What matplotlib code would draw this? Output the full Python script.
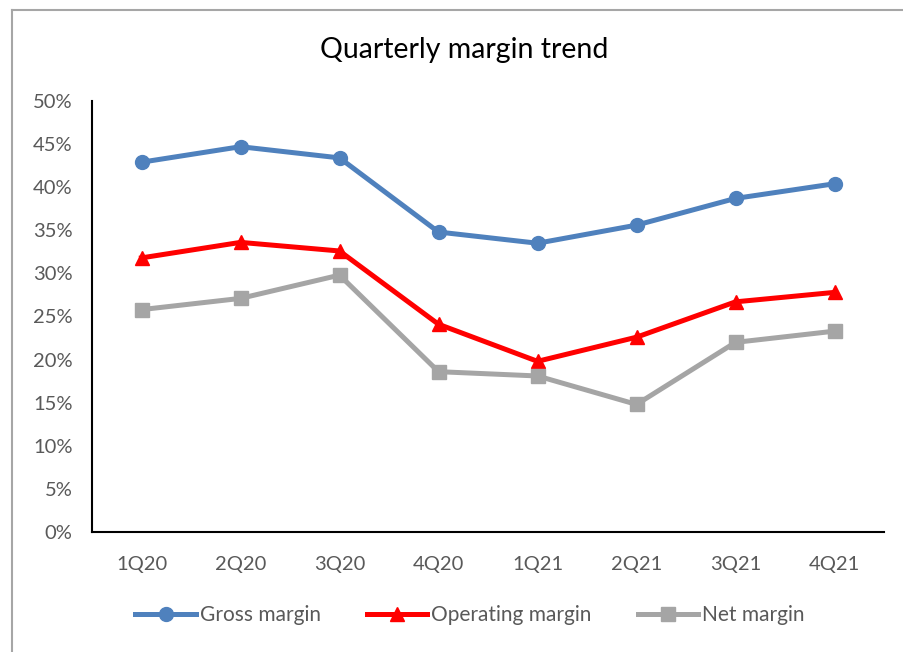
import matplotlib
matplotlib.use("Agg")
import matplotlib.pyplot as plt
from matplotlib.lines import Line2D
from matplotlib.ticker import FuncFormatter

quarters = ["1Q20", "2Q20", "3Q20", "4Q20", "1Q21", "2Q21", "3Q21", "4Q21"]
gross_margin = [42.9, 44.7, 43.4, 34.8, 33.5, 35.6, 38.7, 40.4]
operating_margin = [31.8, 33.6, 32.6, 24.1, 19.8, 22.6, 26.7, 27.8]
net_margin = [25.8, 27.1, 29.8, 18.6, 18.1, 14.8, 22.0, 23.3]
y_ticks = [0, 5, 10, 15, 20, 25, 30, 35, 40, 45, 50]

plt.rcParams['font.family'] = ['Lato', 'DejaVu Sans']
text_color = "#595959"

fig = plt.figure(figsize=(9.04, 6.52), dpi=100)
ax = fig.add_axes([92/904, 1-532/652, (884-92)/904, (532-101)/652])

x = list(range(len(quarters)))
ax.plot(x, gross_margin, color="#4F81BD", lw=3.6, marker="o", ms=10, label="Gross margin")
ax.plot(x, operating_margin, color="#FF0000", lw=3.6, marker="^", ms=10, label="Operating margin")
ax.plot(x, net_margin, color="#A5A5A5", lw=3.6, marker="s", ms=10, label="Net margin")

ax.set_xlim(-0.5, len(quarters) - 0.5)
ax.set_ylim(0, 50)
ax.set_yticks(y_ticks)
ax.yaxis.set_major_formatter(FuncFormatter(lambda v, p: f"{int(v)}%"))
ax.set_xticks(x)
ax.set_xticklabels(quarters)
ax.tick_params(axis="both", length=0, labelsize=14.5, colors=text_color)
ax.tick_params(axis="x", pad=17)
ax.tick_params(axis="y", pad=14)
for s in ["top", "right"]:
    ax.spines[s].set_visible(False)
for s in ["left", "bottom"]:
    ax.spines[s].set_color("black")
    ax.spines[s].set_linewidth(1.5)

fig.text(464/904, 1-50/652, "Quarterly margin trend", ha="center", va="center", fontsize=20.5, color="black")

leg = fig.legend(loc="center", bbox_to_anchor=(470/904, 1-615/652), ncol=3, frameon=False,
                 fontsize=15, handlelength=2.9, columnspacing=2.2, handletextpad=0.2)
for t in leg.get_texts():
    t.set_color(text_color)

border = "#A6A6A6"
fig.add_artist(Line2D([11.5/904, 11.5/904], [0, 1-9.5/652], color=border, lw=1.5, transform=fig.transFigure))
fig.add_artist(Line2D([11.5/904, 1], [1-9.5/652, 1-9.5/652], color=border, lw=1.5, transform=fig.transFigure))

fig.savefig("out.png", dpi=100)
